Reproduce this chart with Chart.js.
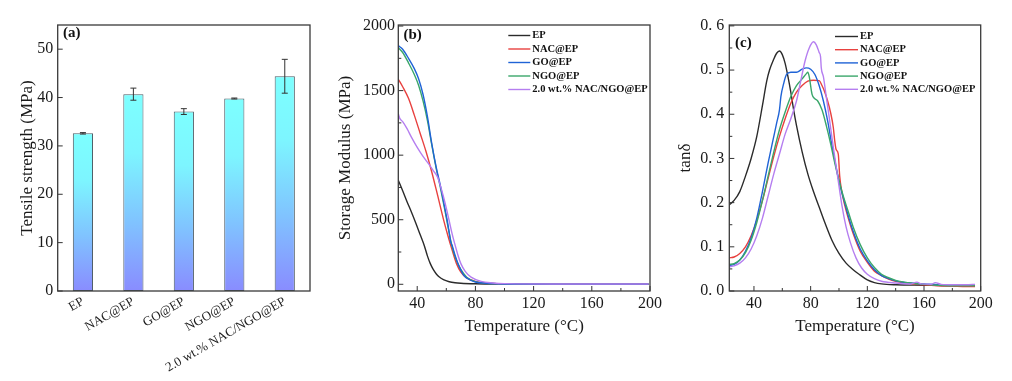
<!DOCTYPE html>
<html><head><meta charset="utf-8">
<script src="https://cdn.jsdelivr.net/npm/chart.js@4.4.1/dist/chart.umd.min.js"></script>
<style>
html,body{margin:0;padding:0;background:#fff;width:1012px;height:381px;overflow:hidden;}
.p{position:absolute;top:0;}
</style></head><body>
<div class="p" style="left:0px"><canvas id="ca" width="330" height="381"></canvas></div>
<div class="p" style="left:330px"><canvas id="cb" width="340" height="381"></canvas></div>
<div class="p" style="left:670px"><canvas id="cc" width="342" height="381"></canvas></div>
<script>
// ---------- DATA ----------
const barCategories = ['EP', 'NAC@EP', 'GO@EP', 'NGO@EP', '2.0 wt.% NAC/NGO@EP'];
const tensileStrength = [32.6, 40.7, 37.1, 39.8, 44.4];
const tensileError = [0.15, 1.25, 0.6, 0.1, 3.5];
const tensileTicks = [0, 10, 20, 30, 40, 50];

const seriesNames = ['EP', 'NAC@EP', 'GO@EP', 'NGO@EP', '2.0 wt.% NAC/NGO@EP'];
const tempTicks = [40, 80, 120, 160, 200];
const modulusTicks = [0, 500, 1000, 1500, 2000];
const tandTicks = [0, 0.1, 0.2, 0.3, 0.4, 0.5, 0.6];
const tandTickLabels = ['0. 0', '0. 1', '0. 2', '0. 3', '0. 4', '0. 5', '0. 6'];

// Storage modulus (MPa) vs temperature (°C): [T, value]
const modulusEP = [[27,805],[30,725],[33,640],[36,560],[39,475],[42,385],[45,295],[47,220],[49,160],[51,115],[53,82],[55,58],[58,36],[62,20],[66,12],[70,8],[80,4],[100,2],[140,1],[199,1]];
const modulusNAC = [[27,1588],[30,1530],[34,1440],[38,1310],[42,1170],[46,1030],[50,870],[54,690],[58,505],[61,380],[64,265],[67,160],[70,95],[74,50],[80,22],[90,8],[100,3],[140,1],[199,1]];
const modulusGO = [[27,1848],[30,1820],[34,1750],[38,1670],[41,1590],[44,1470],[47,1300],[50,1090],[53,910],[56,760],[59,590],[61,470],[62,400],[63,330],[64,300],[66,225],[68,160],[72,70],[76,35],[80,18],[90,6],[100,2],[140,1],[199,1]];
const modulusNGO = [[27,1832],[30,1795],[34,1715],[38,1625],[41,1540],[44,1420],[47,1270],[50,1080],[53,900],[56,745],[59,575],[61,455],[63,340],[65,250],[67,185],[70,115],[74,55],[80,20],[90,6],[100,2],[140,1],[199,1]];
const modulusHybrid = [[27,1320],[28,1285],[30,1260],[33,1205],[36,1140],[40,1060],[44,990],[48,930],[51,880],[54,830],[56,760],[58,680],[60,590],[62,490],[64,390],[66,305],[68,225],[70,160],[73,100],[77,55],[84,22],[92,10],[100,5],[140,2],[199,2]];

// tan delta vs temperature (°C): [T, value]
const tandEP = [[22.6,0.195],[26,0.205],[30,0.225],[34,0.26],[38,0.30],[42,0.35],[46,0.42],[49,0.475],[51,0.50],[54,0.525],[56,0.538],[58,0.543],[60,0.535],[62,0.515],[64,0.485],[66,0.45],[68,0.41],[70,0.375],[74,0.315],[78,0.265],[82,0.225],[86,0.19],[90,0.155],[95,0.115],[100,0.085],[105,0.063],[110,0.048],[115,0.036],[120,0.025],[125,0.019],[130,0.016],[140,0.014],[160,0.013],[180,0.012],[196,0.011]];
const tandNAC = [[22.6,0.075],[26,0.077],[30,0.085],[34,0.1],[38,0.125],[42,0.16],[46,0.205],[50,0.255],[54,0.305],[58,0.35],[62,0.39],[66,0.425],[70,0.45],[74,0.465],[78,0.475],[82,0.477],[86,0.476],[88,0.465],[90,0.45],[92,0.43],[94,0.405],[96,0.37],[97,0.34],[98,0.32],[99.5,0.31],[100.5,0.26],[102,0.225],[104,0.195],[107,0.16],[110,0.13],[115,0.09],[120,0.065],[125,0.045],[130,0.035],[135,0.027],[140,0.022],[150,0.017],[160,0.014],[170,0.012],[180,0.011],[190,0.01],[196,0.01]];
const tandGO = [[22.6,0.058],[26,0.06],[30,0.07],[34,0.09],[38,0.12],[42,0.165],[46,0.225],[50,0.29],[53,0.335],[56,0.38],[58,0.41],[59,0.44],[61,0.47],[63,0.49],[66,0.495],[70,0.495],[74,0.502],[77,0.505],[80,0.502],[83,0.49],[86,0.465],[89,0.43],[92,0.385],[95,0.33],[98,0.28],[101,0.235],[104,0.2],[107,0.165],[110,0.135],[115,0.095],[120,0.068],[125,0.048],[130,0.035],[135,0.028],[140,0.023],[150,0.018],[160,0.016],[170,0.014],[180,0.013],[190,0.013],[196,0.014]];
const tandNGO = [[22.6,0.06],[26,0.062],[30,0.07],[34,0.087],[38,0.115],[42,0.155],[46,0.205],[50,0.26],[54,0.315],[58,0.365],[62,0.405],[66,0.44],[70,0.465],[74,0.48],[77,0.492],[78,0.495],[79,0.485],[81,0.445],[83,0.435],[85,0.43],[88,0.41],[91,0.375],[94,0.335],[97,0.29],[100,0.25],[103,0.215],[106,0.185],[110,0.145],[115,0.105],[120,0.075],[125,0.053],[130,0.038],[135,0.03],[140,0.024],[150,0.018],[160,0.015],[170,0.013],[180,0.012],[190,0.012],[196,0.012]];
const tandHybrid = [[22.6,0.055],[26,0.057],[30,0.063],[34,0.075],[38,0.095],[42,0.125],[46,0.165],[50,0.215],[54,0.265],[58,0.31],[62,0.355],[66,0.39],[70,0.43],[73,0.475],[76,0.52],[79,0.55],[82,0.564],[84,0.557],[86,0.54],[87,0.53],[87.5,0.505],[89,0.485],[91,0.44],[93,0.395],[96,0.325],[99,0.26],[102,0.195],[105,0.145],[108,0.11],[112,0.075],[116,0.052],[120,0.038],[125,0.028],[130,0.022],[140,0.018],[150,0.016],[155,0.02],[158,0.016],[165,0.015],[168,0.019],[172,0.015],[180,0.014],[190,0.014],[196,0.015]];

// ---------- STYLE ----------
const SERIF = '"Liberation Serif", "Times New Roman", serif';
Chart.defaults.font.family = SERIF;
Chart.defaults.color = '#1a1a1a';
const lineColors = ['#2b2b2b', '#e8413f', '#1f63d6', '#3aa66a', '#b57ef0'];

function minorOf(majors, lo, hi) {
  const step = majors[1] - majors[0];
  const out = [];
  [majors[0] - step, ...majors].forEach(v => {
    const m = v + step / 2;
    if (m > lo && m < hi) out.push(m);
  });
  return out;
}

const framePlugin = {
  id: 'frame',
  afterDatasetsDraw(chart, args, o) {
    const {ctx, chartArea: a} = chart;
    const xs = chart.scales.x, ys = chart.scales.y;
    ctx.save();
    ctx.strokeStyle = '#333';
    ctx.lineWidth = 1;
    const seg = (x1, y1, x2, y2) => { ctx.beginPath(); ctx.moveTo(x1, y1); ctx.lineTo(x2, y2); ctx.stroke(); };
    if (o.xMajor) {
      o.xMajor.forEach(v => { const p = xs.getPixelForValue(v); seg(p, a.bottom, p, a.bottom - 5); });
      minorOf(o.xMajor, xs.min, xs.max).forEach(v => { const p = xs.getPixelForValue(v); seg(p, a.bottom, p, a.bottom - 3); });
    }
    if (o.yMajor) {
      o.yMajor.forEach(v => { const p = ys.getPixelForValue(v); seg(a.left, p, a.left + 5, p); });
      if (o.yMinor) minorOf(o.yMajor, ys.min, ys.max).forEach(v => { const p = ys.getPixelForValue(v); seg(a.left, p, a.left + 3, p); });
    }
    // error bars
    if (o.errors) {
      const meta = chart.getDatasetMeta(0);
      const vals = chart.data.datasets[0].data;
      meta.data.forEach((el, i) => {
        const e = o.errors[i];
        const t = ys.getPixelForValue(vals[i] + e), b = ys.getPixelForValue(vals[i] - e);
        ctx.strokeStyle = '#333';
        seg(el.x, t, el.x, b);
        seg(el.x - 3, t, el.x + 3, t);
        seg(el.x - 3, b, el.x + 3, b);
      });
    }
    // frame
    ctx.strokeStyle = '#3a3a3a';
    ctx.lineWidth = 1.3;
    ctx.strokeRect(a.left, a.top, a.right - a.left, a.bottom - a.top);
    // panel label
    ctx.fillStyle = '#111';
    ctx.textBaseline = 'middle';
    ctx.textAlign = 'left';
    ctx.font = 'bold 15px ' + SERIF;
    ctx.fillText(o.label, o.labelX, o.labelY);
    // legend
    if (o.legend) {
      const L = o.legend;
      ctx.font = 'bold 10.5px ' + SERIF;
      chart.data.datasets.forEach((ds, i) => {
        const y = L.y + i * L.step;
        ctx.strokeStyle = ds.borderColor;
        ctx.lineWidth = 1.4;
        seg(L.x, y, L.x + L.len, y);
        ctx.fillStyle = '#111';
        ctx.fillText(ds.label, L.x + L.len + 2, y);
      });
    }
    ctx.restore();
  }
};

function fixedTicks(values) {
  return s => { s.ticks = values.map(v => ({value: v})); };
}

// ---------- (a) ----------
new Chart(document.getElementById('ca'), {
  type: 'bar',
  data: {
    labels: barCategories,
    datasets: [{
      data: tensileStrength,
      barPercentage: 0.4,
      categoryPercentage: 1,
      borderColor: 'rgba(60,75,85,0.9)',
      borderWidth: 1,
      borderSkipped: false,
      backgroundColor(c) {
        const ch = c.chart;
        if (!ch.chartArea) return 'rgb(128,220,255)';
        const y = ch.scales.y;
        const top = y.getPixelForValue(c.raw), bot = y.getPixelForValue(0);
        const g = ch.ctx.createLinearGradient(0, top, 0, bot);
        g.addColorStop(0, 'rgb(125,255,255)');
        g.addColorStop(0.3, 'rgb(125,245,255)');
        g.addColorStop(0.65, 'rgb(128,195,255)');
        g.addColorStop(1, 'rgb(137,140,255)');
        return g;
      }
    }]
  },
  plugins: [framePlugin],
  options: {
    responsive: false, animation: false,
    layout: {padding: {top: 25, right: 20, left: 0, bottom: 0}},
    plugins: {
      legend: {display: false}, tooltip: {enabled: false},
      frame: {label: '(a)', labelX: 63, labelY: 33.5, yMajor: tensileTicks, errors: tensileError}
    },
    scales: {
      x: {
        grid: {display: false, drawTicks: false}, border: {display: false},
        ticks: {font: {size: 13}, minRotation: 30, maxRotation: 30, autoSkip: false, padding: 3},
        afterFit(s) { s.height = 90; }
      },
      y: {
        min: 0, max: 55,
        afterBuildTicks: fixedTicks(tensileTicks),
        grid: {display: false, drawTicks: false}, border: {display: false},
        ticks: {font: {size: 16}, padding: 4.5},
        title: {display: true, text: 'Tensile strength (MPa)', font: {size: 17}, padding: {top: 17.5, bottom: 0}},
        afterFit(s) { s.width = 57.7; }
      }
    }
  }
});

// ---------- line chart helper ----------
function lineChart(id, series, yTicks, yMin, yMax, yTitle, yWidth, rightPad, xMin, frameOpts, tickCb, order) {
  return new Chart(document.getElementById(id), {
    type: 'line',
    data: {
      datasets: series.map((pts, i) => ({
        label: seriesNames[i],
        data: pts.map(p => ({x: p[0], y: p[1]})),
        borderColor: lineColors[i],
        borderWidth: 1.4,
        pointRadius: 0,
        cubicInterpolationMode: 'monotone',
        fill: false,
        order: order[i]
      }))
    },
    plugins: [framePlugin],
    options: {
      responsive: false, animation: false,
      layout: {padding: {top: 25, right: rightPad, left: 0, bottom: 0}},
      plugins: {legend: {display: false}, tooltip: {enabled: false}, frame: frameOpts},
      scales: {
        x: {
          type: 'linear', min: xMin, max: 200,
          afterBuildTicks: fixedTicks(tempTicks),
          grid: {display: false, drawTicks: false}, border: {display: false},
          ticks: {font: {size: 16}, padding: 3},
          title: {display: true, text: 'Temperature (°C)', font: {size: 17}, padding: {top: 0, bottom: 44}},
          afterFit(s) { s.height = 90; }
        },
        y: {
          min: yMin, max: yMax,
          afterBuildTicks: fixedTicks(yTicks),
          grid: {display: false, drawTicks: false}, border: {display: false},
          ticks: {font: {size: 16}, padding: tickCb ? 5 : 3.3, callback: tickCb || (v => v)},
          title: {display: true, text: yTitle, font: {size: 17}, padding: {top: 5, bottom: 0}},
          afterFit(s) { s.width = yWidth; }
        }
      }
    }
  });
}

// ---------- (b) ----------
lineChart('cb', [modulusEP, modulusNAC, modulusGO, modulusNGO, modulusHybrid],
  modulusTicks, -52, 2008, 'Storage Modulus (MPa)', 68.3, 20, 27,
  {label: '(b)', labelX: 73.5, labelY: 35, xMajor: tempTicks, yMajor: modulusTicks, yMinor: true,
   legend: {x: 178.3, y: 35.5, step: 13.5, len: 22}},
  null, [4, 3, 1, 2, 0]);

// ---------- (c) ----------
lineChart('cc', [tandEP, tandNAC, tandGO, tandNGO, tandHybrid],
  tandTicks, 0, 0.602, 'tanδ', 59.3, 31.3, 22.6,
  {label: '(c)', labelX: 65, labelY: 43, xMajor: tempTicks, yMajor: tandTicks, yMinor: true,
   legend: {x: 165, y: 36.5, step: 13.2, len: 23}},
  (v) => { const i = tandTicks.findIndex(t => Math.abs(t - v) < 1e-9); return i >= 0 ? tandTickLabels[i] : ''; },
  [4, 3, 2, 1, 0]);
</script>
</body></html>
